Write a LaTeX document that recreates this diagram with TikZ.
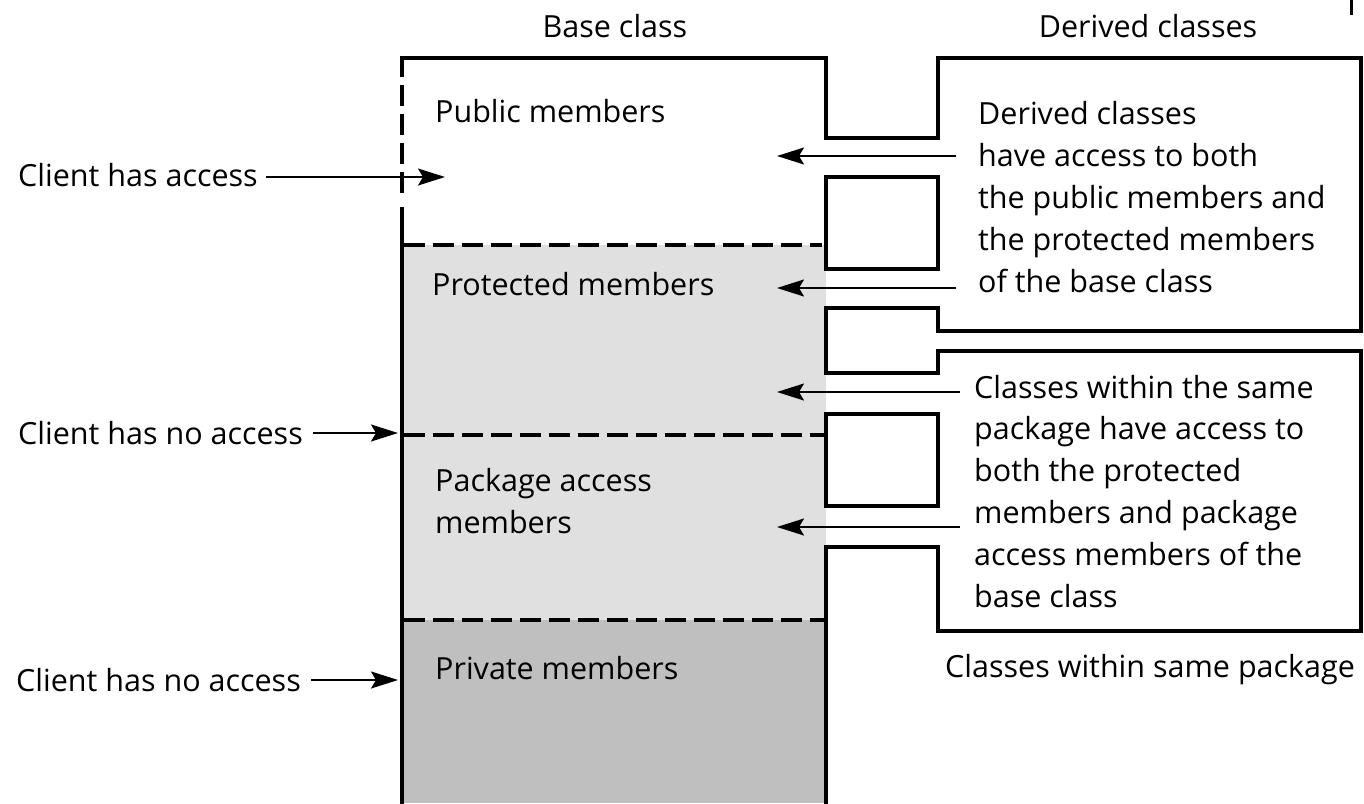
\documentclass[tikz,border=0pt]{standalone}
\usepackage{fontspec}
\setmainfont{Open Sans}
\usetikzlibrary{arrows.meta}
\definecolor{lgray}{gray}{0.88}
\definecolor{dgray}{gray}{0.75}
\tikzset{
  outline/.style={line width=4pt, line join=miter},
  sep/.style={line width=4pt, dash pattern=on 21pt off 8pt},
  arr/.style={line width=2pt, -{Stealth[length=27pt,width=17pt,inset=5pt]}},
  lbl/.style={inner sep=0pt, font=\fontsize{30.5}{41.8}\selectfont},
}
\begin{document}
\begin{tikzpicture}[x=1pt,y=-1pt]
\useasboundingbox (0,0) rectangle (1364,803);
% fills
\fill[lgray] (402,245) rectangle (826,620);
\fill[dgray] (402,620) rectangle (826,803);
% separators
\draw[sep] (404,245) -- (822,245);
\draw[sep] (404,435) -- (824,435);
\draw[sep] (404,620) -- (824,620);
% left edge of base class
\draw[sep] (402,56) -- (402,200);
\draw[outline] (402,207) -- (402,806);
% combined outline of base class and derived class boxes
\draw[outline] (400,58) -- (826,58) -- (826,138) -- (938,138) -- (938,58)
  -- (1361,58) -- (1361,331) -- (938,331) -- (938,308) -- (826,308)
  -- (826,373) -- (938,373) -- (938,351) -- (1361,351) -- (1361,631)
  -- (938,631) -- (938,547) -- (826,547) -- (826,806);
\draw[outline] (826,177) rectangle (938,269);
\draw[outline] (826,414) rectangle (938,506);
% corner tick
\draw[line width=3pt] (1351,0) -- (1351,15);
% headers
\node[lbl, anchor=base] (basehdr) at (615,37) {Base class};
\node[lbl, anchor=base] (derhdr) at (1148,37) {Derived classes};
% member labels
\node[lbl, anchor=base west] (pub) at (435,122) {Public members};
\node[lbl, anchor=base west] (prot) at (432,295) {Protected members};
\node[lbl, anchor=base west, align=left] (pkg) at (435,533) {Package access\\members};
\node[lbl, anchor=base west] (priv) at (435,679) {Private members};
% client labels
\node[lbl, anchor=base west] (cha) at (18,186) {Client has access};
\node[lbl, anchor=base west] (cna1) at (18,444) {Client has no access};
\node[lbl, anchor=base west] (cna2) at (16,691) {Client has no access};
% right texts
\node[lbl, anchor=base west, align=left] (dtxt) at (978,292)
  {Derived classes\\have access to both\\the public members and\\the protected members\\of the base class};
\node[lbl, anchor=base west, align=left] (ptxt) at (974,607)
  {Classes within the same\\package have access to\\both the protected\\members and package\\access members of the\\base class};
\node[lbl, anchor=base west] (cwsp) at (945,677) {Classes within same package};
% arrow end points
\coordinate (c1) at (445,177);
\coordinate (c2) at (398,433);
\coordinate (c3) at (398,680);
\coordinate (t1) at (777,156);
\coordinate (t2) at (777,288);
\coordinate (t3) at (777,392);
\coordinate (t4) at (777,527);
% arrows
\draw[arr, shorten <=8pt] (cha.east |- c1) -- (c1);
\draw[arr, shorten <=10pt] (cna1.east |- c2) -- (c2);
\draw[arr, shorten <=10pt] (cna2.east |- c3) -- (c3);
\draw[arr, shorten <=22pt] (dtxt.west |- t1) -- (t1);
\draw[arr, shorten <=22pt] (dtxt.west |- t2) -- (t2);
\draw[arr, shorten <=14pt] (ptxt.west |- t3) -- (t3);
\draw[arr, shorten <=14pt] (ptxt.west |- t4) -- (t4);
\end{tikzpicture}
\end{document}
